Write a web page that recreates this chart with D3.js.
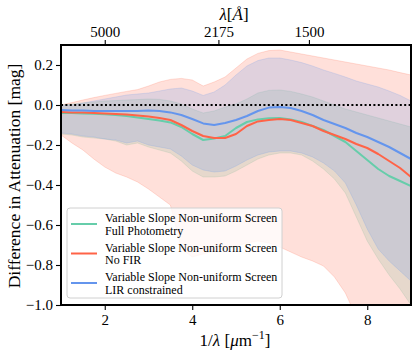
<!DOCTYPE html>
<html>
<head>
<meta charset="utf-8">
<script src="https://cdn.jsdelivr.net/npm/d3@7"></script>
<style>
html,body{margin:0;padding:0;background:#fff;}
</style>
</head>
<body>
<svg id="chart" width="415" height="355"></svg>
<script>
// wavenumber grid (1/lambda, micron^-1)
const wavenumber = [1.0,1.25,1.5,1.75,2.0,2.25,2.5,2.75,3.0,3.25,3.5,3.75,4.0,4.25,4.5,4.75,5.0,5.25,5.5,5.75,6.0,6.25,6.5,6.75,7.0,7.25,7.5,7.75,8.0,8.25,8.5,8.75,9.0];

// median curves
const fullPhotometry = [-0.04,-0.04,-0.042,-0.044,-0.046,-0.05,-0.055,-0.062,-0.07,-0.078,-0.087,-0.11,-0.145,-0.175,-0.167,-0.155,-0.115,-0.085,-0.072,-0.066,-0.065,-0.072,-0.085,-0.105,-0.125,-0.155,-0.185,-0.23,-0.275,-0.32,-0.355,-0.38,-0.405];
const noFIR = [-0.035,-0.037,-0.038,-0.04,-0.042,-0.045,-0.048,-0.052,-0.058,-0.065,-0.075,-0.1,-0.13,-0.155,-0.165,-0.165,-0.145,-0.105,-0.082,-0.075,-0.07,-0.075,-0.09,-0.105,-0.13,-0.15,-0.17,-0.195,-0.215,-0.245,-0.28,-0.315,-0.36];
const lirConstrained = [-0.025,-0.027,-0.028,-0.03,-0.03,-0.03,-0.03,-0.03,-0.028,-0.03,-0.037,-0.05,-0.07,-0.092,-0.1,-0.09,-0.075,-0.055,-0.03,-0.013,-0.01,-0.015,-0.03,-0.05,-0.075,-0.095,-0.115,-0.14,-0.16,-0.185,-0.21,-0.24,-0.27];

// uncertainty bands
const fullPhotometryUpper = [0.0,0.005,0.01,0.015,0.02,0.022,0.025,0.027,0.03,0.028,0.02,0.005,-0.02,-0.04,-0.03,-0.01,0.005,0.03,0.06,0.073,0.075,0.068,0.055,0.04,0.02,0.0,-0.02,-0.035,-0.05,-0.065,-0.08,-0.095,-0.11];
const fullPhotometryLower = [-0.145,-0.15,-0.16,-0.165,-0.17,-0.18,-0.2,-0.19,-0.21,-0.225,-0.24,-0.28,-0.33,-0.36,-0.36,-0.355,-0.33,-0.3,-0.27,-0.25,-0.24,-0.24,-0.25,-0.28,-0.32,-0.37,-0.44,-0.56,-0.68,-0.77,-0.85,-0.92,-1.0];
const noFIRUpper = [0.0,0.012,0.025,0.037,0.048,0.058,0.068,0.077,0.095,0.115,0.128,0.133,0.125,0.095,0.115,0.14,0.185,0.23,0.258,0.272,0.275,0.265,0.255,0.245,0.235,0.225,0.215,0.205,0.195,0.185,0.175,0.162,0.15];
const noFIRLower = [-0.15,-0.19,-0.225,-0.27,-0.31,-0.34,-0.36,-0.385,-0.42,-0.46,-0.5,-0.72,-0.76,-0.745,-0.73,-0.715,-0.705,-0.69,-0.68,-0.69,-0.71,-0.735,-0.76,-0.78,-0.805,-0.86,-0.94,-1.06,-1.15,-1.2,-1.2,-1.2,-1.2];
const lirUpper = [0.0,0.0,0.01,0.02,0.03,0.04,0.05,0.055,0.06,0.07,0.08,0.085,0.07,0.048,0.065,0.1,0.15,0.195,0.222,0.235,0.235,0.225,0.212,0.195,0.175,0.158,0.14,0.12,0.105,0.09,0.07,0.048,0.02];
const lirLower = [-0.14,-0.145,-0.155,-0.16,-0.17,-0.175,-0.19,-0.18,-0.2,-0.21,-0.22,-0.255,-0.3,-0.325,-0.335,-0.33,-0.305,-0.275,-0.25,-0.235,-0.23,-0.23,-0.24,-0.26,-0.29,-0.33,-0.39,-0.5,-0.62,-0.72,-0.78,-0.83,-0.88];

// axis ticks
const yTicks = [0.2,0.0,-0.2,-0.4,-0.6,-0.8,-1.0];
const xTicks = [2,4,6,8];
const topTicksAngstrom = [5000,2175,1500];

const seriesNames = ["Full Photometry","No FIR","LIR constrained"];
const seriesPrefix = "Variable Slope Non-uniform Screen";
const seriesColors = ["#66cdaa","#ff6347","#6495ed"];

const FONT = '"Liberation Serif"';
const svg = d3.select("#chart");
const L = 61, R = 411, T = 45, B = 305;
const x = d3.scaleLinear().domain([1,9]).range([L,R]);
const y = d3.scaleLinear().domain([-1,0.3]).range([B,T]);

svg.append("defs").append("clipPath").attr("id","clip")
  .append("rect").attr("x",L).attr("y",T).attr("width",R-L).attr("height",B-T);

const plot = svg.append("g").attr("clip-path","url(#clip)");

const bands = [
  {up: fullPhotometryUpper, lo: fullPhotometryLower, color: seriesColors[0]},
  {up: noFIRUpper, lo: noFIRLower, color: seriesColors[1]},
  {up: lirUpper, lo: lirLower, color: seriesColors[2]}
];
const area = d3.area().x(d => x(d[0])).y0(d => y(d[1])).y1(d => y(d[2]));
bands.forEach(b => {
  const data = wavenumber.map((w,i) => [w, b.lo[i], b.up[i]]);
  plot.append("path").attr("d", area(data))
    .attr("fill", b.color).attr("fill-opacity", 0.2)
    .attr("stroke", b.color).attr("stroke-opacity", 0.25).attr("stroke-width", 0.8);
});

// zero line
plot.append("line").attr("x1",L).attr("x2",R).attr("y1",y(0)).attr("y2",y(0))
  .attr("stroke","#000").attr("stroke-width",2).attr("stroke-dasharray","2,2.4");

const line = d3.line().x(d => x(d[0])).y(d => y(d[1]));
[fullPhotometry, noFIR, lirConstrained].forEach((s,k) => {
  plot.append("path").attr("d", line(wavenumber.map((w,i) => [w, s[i]])))
    .attr("fill","none").attr("stroke", seriesColors[k]).attr("stroke-width", 2)
    .attr("stroke-linejoin","round");
});

// axes
const fmt = v => (v < 0 ? "\u2212" : "") + Math.abs(v).toFixed(1);
const yAxis = d3.axisLeft(y).tickValues(yTicks).tickFormat(fmt).tickSize(5).tickPadding(3);
const xAxis = d3.axisBottom(x).tickValues(xTicks).tickFormat(d3.format("d")).tickSize(5).tickPadding(4);
const topAxis = d3.axisTop(x).tickValues(topTicksAngstrom.map(a => 1e4/a))
  .tickFormat((d,i) => String(topTicksAngstrom[i])).tickSize(5).tickPadding(3);

function styleAxis(g){
  g.attr("font-family", FONT).attr("font-size", 15);
  g.select(".domain").remove();
  g.selectAll(".tick line").attr("stroke","#000").attr("stroke-width",1.1);
  g.selectAll(".tick text").attr("fill","#000");
}
svg.append("g").attr("transform",`translate(${L},0)`).call(yAxis).call(styleAxis);
svg.append("g").attr("transform",`translate(0,${B})`).call(xAxis).call(styleAxis);
svg.append("g").attr("transform",`translate(0,${T})`).call(topAxis).call(styleAxis);

// frame
svg.append("rect").attr("x",L).attr("y",T).attr("width",R-L).attr("height",B-T)
  .attr("fill","none").attr("stroke","#000").attr("stroke-width",2);

// axis labels
svg.append("text").attr("transform",`translate(16,${(T+B)/2 + 1}) rotate(-90)`)
  .attr("text-anchor","middle").attr("dominant-baseline","middle")
  .attr("font-family", FONT).attr("font-size",17.5).text("Difference in Attenuation [mag]");

const xl = svg.append("text").attr("x",(L+R)/2 - 1).attr("y",346)
  .attr("text-anchor","middle").attr("font-family", FONT).attr("font-size",17);
xl.append("tspan").text("1/");
xl.append("tspan").attr("font-style","italic").text("λ");
xl.append("tspan").text(" [");
xl.append("tspan").attr("font-style","italic").text("μ");
xl.append("tspan").text("m");
xl.append("tspan").attr("dy",-7).attr("font-size",12).text("\u22121");
xl.append("tspan").attr("dy",7).text("]");

const tl = svg.append("text").attr("x",(L+R)/2 - 2).attr("y",20)
  .attr("text-anchor","middle").attr("font-family", FONT).attr("font-size",17);
tl.append("tspan").attr("font-style","italic").text("λ");
tl.append("tspan").text("[");
tl.append("tspan").attr("font-style","italic").text("Å");
tl.append("tspan").text("]");

// legend
const lg = svg.append("g");
lg.append("rect").attr("x",67).attr("y",208).attr("width",215).attr("height",90).attr("rx",3)
  .attr("fill","#fff").attr("fill-opacity",0.8).attr("stroke","#d0d0d0").attr("stroke-width",1);
seriesNames.forEach((n,i) => {
  const cy = 224 + i*29.5;
  lg.append("line").attr("x1",71).attr("x2",97).attr("y1",cy).attr("y2",cy)
    .attr("stroke",seriesColors[i]).attr("stroke-width",2);
  const t = lg.append("text").attr("x",105).attr("y",cy-2)
    .attr("font-family", FONT).attr("font-size",12);
  t.append("tspan").attr("x",105).text(seriesPrefix);
  t.append("tspan").attr("x",105).attr("dy",12.5).text(n);
});
</script>
</body>
</html>
